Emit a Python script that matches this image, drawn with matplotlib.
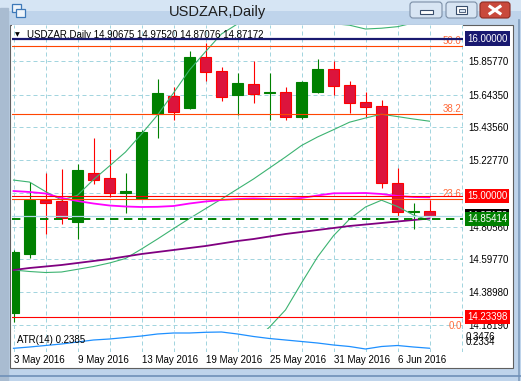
import matplotlib

matplotlib.use("Agg")
import matplotlib.pyplot as plt
from matplotlib.patches import Rectangle, FancyBboxPatch
from matplotlib.transforms import blended_transform_factory

plt.rcParams["font.family"] = ["Liberation Sans", "DejaVu Sans"]

symbol = "USDZAR"
timeframe = "Daily"

dates = ["3 May 2016", "4 May 2016", "5 May 2016", "6 May 2016",
         "9 May 2016", "10 May 2016", "11 May 2016", "12 May 2016", "13 May 2016",
         "16 May 2016", "17 May 2016", "18 May 2016", "19 May 2016", "20 May 2016",
         "23 May 2016", "24 May 2016", "25 May 2016", "26 May 2016", "27 May 2016",
         "30 May 2016", "31 May 2016", "1 Jun 2016", "2 Jun 2016", "3 Jun 2016",
         "6 Jun 2016", "7 Jun 2016", "8 Jun 2016"]

opens = [14.2596, 14.6323, 14.9752, 14.9688, 14.8374, 15.1466, 15.1148, 15.0196, 14.9898,
         15.5193, 15.6374, 15.5574, 15.8812, 15.7942, 15.6437, 15.7117, 15.6526, 15.6609,
         15.5041, 15.6609, 15.8088, 15.7053, 15.5974, 15.5739, 15.0850, 14.9000, 14.90675]
highs = [14.6577, 15.0895, 15.1485, 15.1720, 15.2037, 15.3707, 15.2990, 15.1485, 15.4177,
         15.7415, 15.6945, 15.9212, 15.9720, 15.8177, 15.7834, 15.8596, 15.7834, 15.6945,
         15.7307, 15.8723, 15.8596, 15.7326, 15.6609, 15.6101, 15.1783, 14.9580, 14.97520]
lows = [14.2025, 14.6088, 14.7593, 14.8247, 14.7256, 15.0767, 14.9961, 14.8907, 14.9847,
        15.3669, 15.4850, 15.5530, 15.7326, 15.6056, 15.5129, 15.5929, 15.4831, 15.4850,
        15.4914, 15.6577, 15.6418, 15.5275, 15.5021, 15.0533, 14.8736, 14.7891, 14.87076]
closes = [14.6450, 14.9752, 14.9580, 14.8628, 15.1656, 15.1040, 15.0215, 15.0323, 15.4088,
          15.6564, 15.5358, 15.8831, 15.7898, 15.6272, 15.7180, 15.6501, 15.6564, 15.5041,
          15.7244, 15.8088, 15.7009, 15.5929, 15.5637, 15.0850, 14.9009, 14.9067, 14.87172]

# bollinger bands: middle line and band half-width
bb_mid = [14.5307, 14.5212, 14.5148, 14.5180, 14.5352, 14.5529, 14.5752, 14.6037, 14.6640,
          14.7275, 14.7936, 14.8577, 14.9199, 14.9815, 15.0450, 15.1085, 15.1783, 15.2482,
          15.3212, 15.3752, 15.4215, 15.4691, 15.4958, 15.5199, 15.5047, 15.4894, 15.4755]
bb_dev = [0.571, 0.568, 0.514, 0.457, 0.470, 0.552, 0.616, 0.676, 0.730, 0.787, 0.861,
          0.943, 0.997, 1.048, 1.048, 1.035, 1.010, 0.971, 0.873, 0.762, 0.673, 0.616,
          0.565, 0.546, 0.571, 0.610, 0.629]

ma_magenta = [15.0323, 15.0260, 15.0164, 14.9879, 14.9688, 14.9529, 14.9402, 14.9339, 14.9307,
              14.9320, 14.9371, 14.9529, 14.9656, 14.9752, 14.9815, 14.9847, 14.9815, 14.9815,
              14.9879, 15.0037, 15.0177, 15.0183, 15.0196, 15.0133, 15.0006, 14.9942, 14.9923]
ma_purple = [14.5307, 14.5434, 14.5529, 14.5625, 14.5752, 14.5879, 14.6006, 14.6164, 14.6323,
             14.6450, 14.6577, 14.6704, 14.6831, 14.6990, 14.7148, 14.7275, 14.7434, 14.7593,
             14.7720, 14.7847, 14.7974, 14.8101, 14.8196, 14.8291, 14.8387, 14.8482, 14.8577]

atr = [0.2381, 0.2468, 0.2569, 0.2670, 0.2804, 0.2939, 0.3006, 0.3107, 0.3207, 0.3342,
       0.3409, 0.3409, 0.3456, 0.3476, 0.3342, 0.3174, 0.3039, 0.2939, 0.2838, 0.2737,
       0.2603, 0.2502, 0.2334, 0.2502, 0.2569, 0.2468, 0.2385]

grid_prices = [15.8577, 15.6435, 15.4356, 15.2277, 15.0198, 14.8056, 14.5977, 14.3898, 14.1819]
hidden_grid_labels = [15.0198]  # sits under the 15.00000 label
hline_navy = 16.0
hline_red = [15.0, 14.23398]
order_line = 14.85414
fib_names = ["50.0", "38.2", "23.6", "0.0"]
fib_prices = [15.953, 15.519, 14.983, 14.1434]

W, H = 521, 381
price_top, price_bottom = 16.0863, 14.1561


def box(x0, y0, x1, y1):
    return [x0 / W, 1 - y1 / H, (x1 - x0) / W, (y1 - y0) / H]


fig = plt.figure(figsize=(W / 100, H / 100), dpi=100)
fig.patch.set_facecolor("#bfd4eb")

# window chrome
bg = fig.add_axes([0, 0, 1, 1], zorder=0)
bg.set_xlim(0, W)
bg.set_ylim(H, 0)
bg.axis("off")
bg.imshow([[0], [1]], cmap=matplotlib.colors.LinearSegmentedColormap.from_list(
    "t", ["#d6e5f4", "#bfd4eb"]), extent=[0, W, 22, 0], aspect="auto")
bg.add_patch(Rectangle((0, 8), 8, H, color="#a9bcd1"))
bg.plot([518.5, 518.5], [20, H], color="#7f9cbd", lw=1.2)
bg.plot([0, W], [375.5, 375.5], color="#6f90b8", lw=1.2)
bg.add_patch(Rectangle((9.5, 24.5), 503, 343.5, fc="white", ec="#5f5f5f", lw=0.8))
bg.text(218, 12, f"{symbol},{timeframe}", ha="center", va="center", fontsize=10.5,
        color="#1e1e1e")
bg.add_patch(Rectangle((12, 4), 9, 8, fc="#eef4fa", ec="#3d78b8", lw=0.9))
bg.add_patch(Rectangle((16, 9), 9, 8, fc="#eef4fa", ec="#3d78b8", lw=0.9))
for x0, x1, fc, ec in [(410, 442, "#d8e5f3", "#7b8ea6"), (446, 477, "#d8e5f3", "#7b8ea6"),
                       (480, 510, "#c9493c", "#8d2b22")]:
    bg.add_patch(FancyBboxPatch((x0, 2), x1 - x0, 16, boxstyle="round,pad=0,rounding_size=3",
                                fc=fc, ec=ec, lw=0.8))
bg.add_patch(Rectangle((420, 10), 13, 3.5, fc="white", ec="#384d6b", lw=0.8))
bg.add_patch(Rectangle((456, 6), 11, 8, fc="white", ec="#384d6b", lw=0.8))
bg.add_patch(Rectangle((458.5, 8.5), 6, 3, fc="#d8e5f3", ec="#384d6b", lw=0.6))
bg.plot([490, 500], [6.5, 13.5], color="white", lw=2.2)
bg.plot([490, 500], [13.5, 6.5], color="white", lw=2.2)

# main price window
ax = fig.add_axes(box(12, 25, 463, 329), zorder=1)
n = len(opens)
xs = list(range(n))
ax.set_xlim((12 - 13.5) / 16, (463 - 13.5) / 16)
ax.set_ylim(price_bottom, price_top)
for s in ax.spines.values():
    s.set_visible(False)
grid_kw = dict(color="#a3d5df", lw=0.72, ls=(0, (4, 3)))
ax.set_xticks(range(0, 29, 2))
ax.set_xticklabels([])
ax.set_yticks(grid_prices)
ax.set_yticklabels(["" if p in hidden_grid_labels else f"{p:.5f}" for p in grid_prices])
ax.yaxis.tick_right()
ax.tick_params(length=0, labelsize=7, pad=4, labelcolor="black")
ax.grid(True, **grid_kw)
ax.set_axisbelow(True)

ups = [c >= o for o, c in zip(opens, closes)]
wick_colors = ["#008000" if u else "#ff0000" for u in ups]
ax.vlines(xs, lows, highs, colors=wick_colors, lw=0.8, zorder=2)
bottoms = [min(o, c) for o, c in zip(opens, closes)]
heights = [max(abs(c - o), 0.008) for o, c in zip(opens, closes)]
ax.bar(xs, heights, bottom=bottoms, width=0.64,
       color=["#008000" if u else "#dc143c" for u in ups],
       edgecolor=["#008000" if u else "#ff0000" for u in ups], lw=0.8, zorder=2.1)

bb_up = [m + d for m, d in zip(bb_mid, bb_dev)]
bb_lo = [m - d for m, d in zip(bb_mid, bb_dev)]
for series in (bb_up, bb_mid, bb_lo):
    ax.plot(xs, series, color="#3cb371", lw=0.8, zorder=3)
ax.plot(xs, ma_magenta, color="#ff00ff", lw=1.3, zorder=3)
ax.plot(xs, ma_purple, color="#800080", lw=1.3, zorder=3)

ax.axhline(closes[-1], color="#add8e6", lw=0.9, zorder=3.5)
ax.axhline(order_line, color="#008000", lw=1.4, ls=(0, (4.3, 2.9)), zorder=3.6)
for name, p in zip(fib_names, fib_prices):
    ax.axhline(p, color="#ff4500", lw=0.8, zorder=4)
    ax.annotate(name, (0.9967, p), xycoords=("axes fraction", "data"), xytext=(0, 1.5),
                textcoords="offset points", ha="right", va="baseline", fontsize=7,
                color="#ff6a3a", zorder=4, annotation_clip=False, clip_on=True)
for p in hline_red:
    ax.axhline(p, color="#ff0000", lw=0.8, zorder=4)
ax.axhline(hline_navy, color="#191970", lw=1.6, zorder=4.2)

lab = blended_transform_factory(ax.transAxes, ax.transData)
label_x = (467 - 12) / 451
for p, fc in [(hline_navy, "#191970"), (hline_red[0], "#ff0000"), (closes[-1], "black"),
              (order_line, "#008000"), (hline_red[1], "#ff0000")]:
    ax.text(label_x, p, f"{p:.5f}", transform=lab, ha="left", va="center", fontsize=7,
            color="white", clip_on=False, zorder=6,
            bbox=dict(boxstyle="square,pad=0.22", fc=fc, ec="none"))

ax.text((15 - 12) / 451, (329 - 35) / 304, "\u25bc", transform=ax.transAxes, fontsize=4.5,
        ha="left", va="center", family=["DejaVu Sans"], zorder=5)
ax.text((27 - 12) / 451, (329 - 34.5) / 304,
        f"{symbol},{timeframe} {opens[-1]:.5f} {highs[-1]:.5f} {lows[-1]:.5f} {closes[-1]:.5f}",
        transform=ax.transAxes, fontsize=7, ha="left", va="center", zorder=3.9)

# ATR sub-window
ax2 = fig.add_axes(box(12, 330, 463, 352), zorder=1)
step = (max(atr) - min(atr)) / 17
ax2.set_ylim(min(atr) - 3 * step, max(atr) + 2 * step)
ax2.set_xlim(ax.get_xlim())
for s in ax2.spines.values():
    s.set_visible(False)
ax2.set_yticks([])
ax2.set_xticks(range(0, n, 4))
ax2.set_xticklabels(dates[::4], ha="left")
ax2.set_xticks(range(0, 29, 2), minor=True)
ax2.tick_params(which="both", length=0, labelsize=7, pad=2)
ax2.grid(True, which="both", axis="x", **grid_kw)
ax2.set_axisbelow(True)
ax2.plot(xs, atr, color="#1e90ff", lw=0.9)
ax2.text((17 - 12) / 451, 0.56, f"ATR(14) {atr[-1]:.4f}", transform=ax2.transAxes,
         fontsize=7, ha="left", va="center")
ax2.text((466 - 12) / 451, 0.68, f"{max(atr):.4f}", transform=ax2.transAxes,
         fontsize=7, ha="left", va="center", clip_on=False)
ax2.text((466 - 12) / 451, 0.44, f"{min(atr):.4f}", transform=ax2.transAxes,
         fontsize=7, ha="left", va="center", clip_on=False)

fig.savefig("out.png", dpi=100, facecolor=fig.get_facecolor())
plt.close(fig)
